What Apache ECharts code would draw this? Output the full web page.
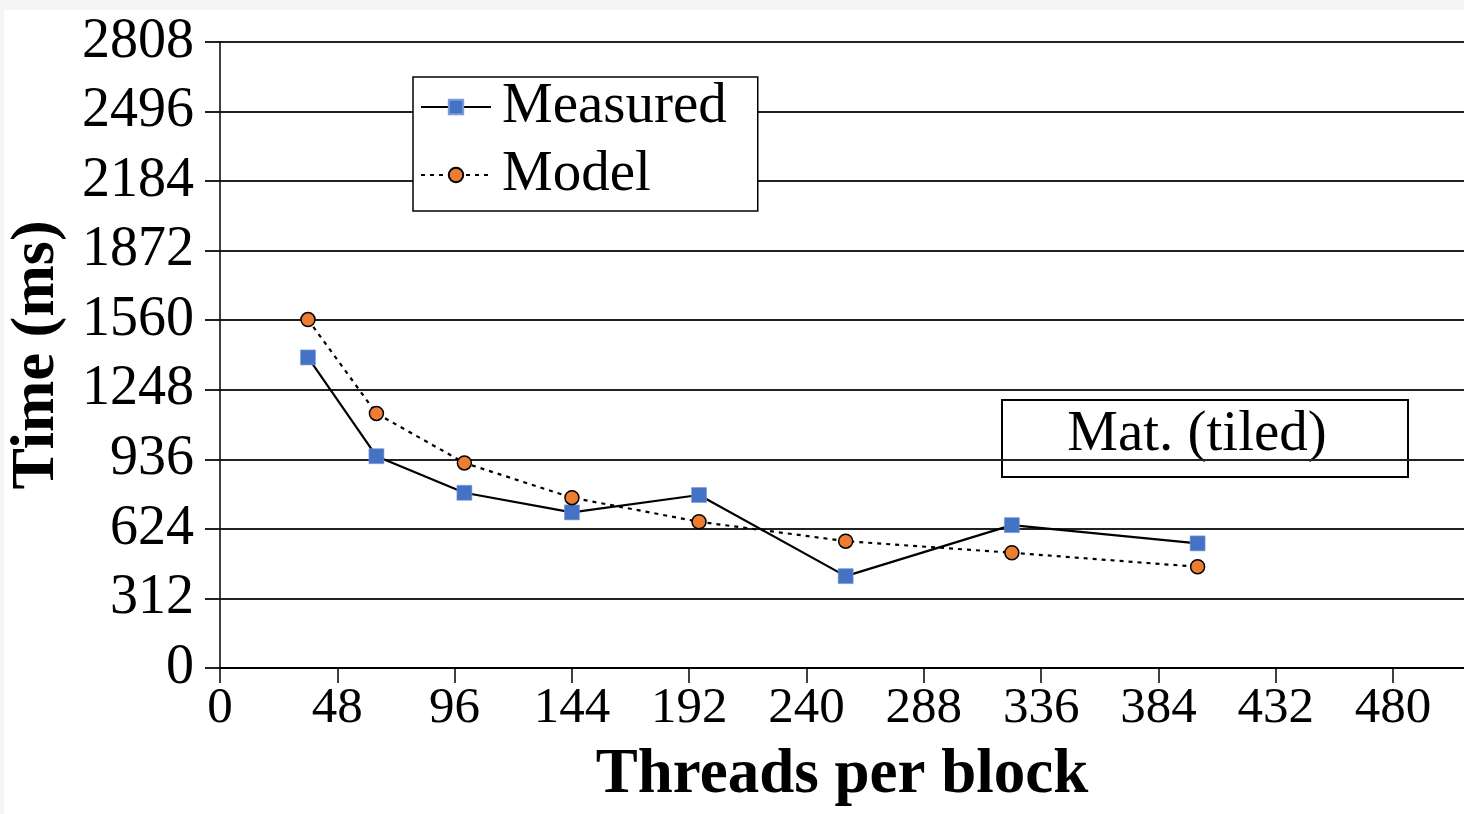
<!DOCTYPE html>
<html><head><meta charset="utf-8">
<script src="https://cdn.jsdelivr.net/npm/echarts@6/dist/echarts.min.js"></script>
<style>html,body{margin:0;padding:0;background:#f5f5f5;width:1464px;height:814px;overflow:hidden}
#c{position:absolute;left:4px;top:10px;width:1460px;height:804px;background:#fff}</style>
</head><body><div id="c"></div>
<script>
const threads = [36, 64, 100, 144, 196, 256, 324, 400];
const measured = [1393, 950, 786, 698, 776, 412, 641, 559];
const model = [1563, 1142, 920, 764, 656, 569, 517, 454];
const xTicks = [0, 48, 96, 144, 192, 240, 288, 336, 384, 432, 480];
const seriesNames = ['Measured', 'Model'];
const annotation = 'Mat. (tiled)';

const FONT = "'Liberation Serif', 'Times New Roman', serif";
const chart = echarts.init(document.getElementById('c'), null, {renderer: 'canvas'});
chart.setOption({
  animation: false,
  backgroundColor: '#fff',
  grid: {left: 216, right: 0, top: 32, bottom: 146, containLabel: false, outerBoundsMode: 'none'},
  legend: {
    left: 409, top: 67,
    orient: 'vertical',
    backgroundColor: '#fff',
    borderColor: '#000', borderWidth: 1.5,
    padding: [1, 31, 7, 7],
    itemWidth: 70, itemHeight: 18, itemGap: 10,
    textStyle: {fontFamily: FONT, fontSize: 57, color: '#000', lineHeight: 58, padding: [0, 0, 0, 6]},
    data: seriesNames
  },
  xAxis: {
    type: 'value', min: 0, max: 509, interval: 48,
    name: 'Threads per block', nameLocation: 'middle', nameGap: 76,
    nameTextStyle: {fontFamily: FONT, fontSize: 63, fontWeight: 'bold', color: '#000'},
    axisLine: {show: true, onZero: false, lineStyle: {color: '#000', width: 2}},
    axisTick: {show: true, length: 15, customValues: xTicks, lineStyle: {color: '#000', width: 1.5}},
    axisLabel: {customValues: xTicks, fontFamily: FONT, fontSize: 51, color: '#000', margin: 15,
      formatter: v => String(v)},
    splitLine: {show: false}
  },
  yAxis: {
    type: 'value', min: 0, max: 2808, interval: 312,
    name: 'Time (ms)', nameLocation: 'middle', nameGap: 152,
    nameTextStyle: {fontFamily: FONT, fontSize: 62, fontWeight: 'bold', color: '#000'},
    axisLine: {show: true, lineStyle: {color: '#000', width: 1.5}},
    axisTick: {show: true, length: 15, lineStyle: {color: '#222', width: 2}},
    axisLabel: {fontFamily: FONT, fontSize: 56, color: '#000', margin: 26, formatter: v => String(v)},
    splitLine: {show: true, lineStyle: {color: '#222', width: 2}}
  },
  series: [
    {
      name: seriesNames[0], type: 'line',
      data: threads.map((t, i) => [t, measured[i]]),
      symbol: 'rect', symbolSize: 15,
      itemStyle: {color: '#4472C4', borderColor: '#7d9bd6', borderWidth: 0.6},
      lineStyle: {color: '#000', width: 2.2, type: 'solid'},
      z: 3
    },
    {
      name: seriesNames[1], type: 'line',
      data: threads.map((t, i) => [t, model[i]]),
      symbol: 'circle', symbolSize: 14,
      itemStyle: {color: '#ED7D31', borderColor: '#000', borderWidth: 1.5},
      lineStyle: {color: '#000', width: 2.2, type: [4, 5]},
      z: 3
    }
  ],
  graphic: [
    {
      type: 'group', z: 10,
      children: [
        {type: 'rect', shape: {x: 998, y: 390, width: 406, height: 77},
         style: {fill: '#fff', stroke: '#000', lineWidth: 2}},
        {type: 'text', x: 1193, y: 425,
         style: {text: annotation, font: "57px " + FONT, fill: '#000', align: 'center', verticalAlign: 'middle'}}
      ]
    }
  ]
});
</script></body></html>
